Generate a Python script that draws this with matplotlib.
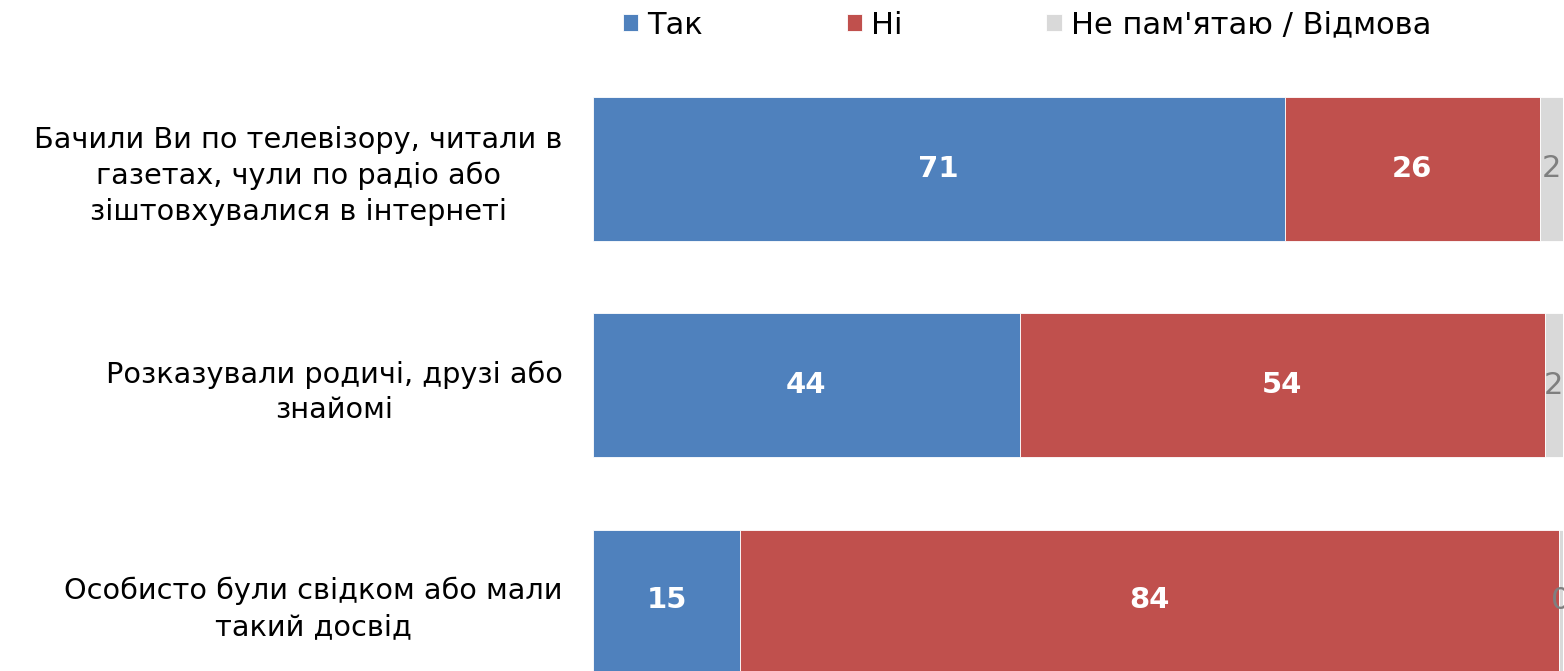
import matplotlib
matplotlib.use("Agg")
import matplotlib.pyplot as plt

plt.rcParams['font.family'] = ['DejaVu Sans']

# дані
categories = [
    "Бачили Ви по телевізору, читали в\nгазетах, чули по радіо або\nзіштовхувалися в інтернеті",
    "Розказували родичі, друзі або\nзнайомі",
    "Особисто були свідком або мали\nтакий досвід",
]
series_names = ["Так", "Ні", "Не пам'ятаю / Відмова"]
yes_vals = [71.3, 44.0, 15.2]
no_vals = [26.3, 54.1, 84.4]
dk_vals = [2.4, 1.9, 0.4]

colors = ["#4F81BD", "#C0504D", "#D9D9D9"]

fig = plt.figure(figsize=(15.64, 6.71), dpi=100)
ax = fig.add_axes([593 / 1564, 0, 970 / 1564, 611 / 671])

y = list(range(len(categories)))
height = 0.665
left = [0.0] * len(categories)
containers = []
for vals, name, col in zip([yes_vals, no_vals, dk_vals], series_names, colors):
    c = ax.barh(y, vals, left=left, height=height, color=col, label=name,
                edgecolor="white", linewidth=0.6)
    containers.append(c)
    left = [l + v for l, v in zip(left, vals)]

ax.set_xlim(0, 100)
ax.set_ylim(2.319, -0.503)

# підписи значень
ax.bar_label(containers[0], labels=[f"{v:.0f}" for v in yes_vals], label_type="center",
             color="white", fontsize=21, fontweight="bold")
ax.bar_label(containers[1], labels=[f"{v:.0f}" for v in no_vals], label_type="center",
             color="white", fontsize=21, fontweight="bold")
ax.bar_label(containers[2], labels=[f"{v:.0f}" for v in dk_vals], label_type="center",
             color="#7F7F7F", fontsize=22, clip_on=False)

ax.set_yticks(y)
ax.set_yticklabels(categories, fontsize=20.7, linespacing=1.35)
for lbl in ax.get_yticklabels():
    lbl.set_multialignment("center")
ax.tick_params(axis="y", length=0, pad=22)
ax.set_xticks([])
for s in ax.spines.values():
    s.set_visible(False)

fig.legend(handles=containers, labels=series_names, loc="center left",
           bbox_to_anchor=(623 / 1564, 1 - 25 / 671), ncol=3, frameon=False,
           fontsize=22, handlelength=0.5, handleheight=0.5, handletextpad=0.3,
           columnspacing=4.7, borderpad=0, borderaxespad=0)

fig.savefig("out.png", dpi=100)
